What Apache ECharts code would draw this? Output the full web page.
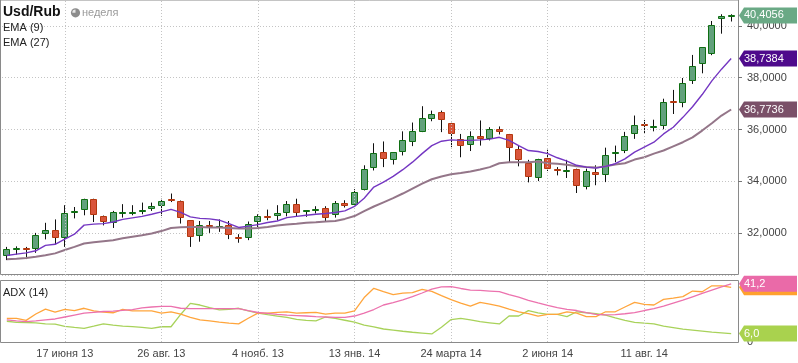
<!DOCTYPE html>
<html><head><meta charset="utf-8">
<script src="https://cdn.jsdelivr.net/npm/echarts@6/dist/echarts.min.js"></script>
<style>html,body{margin:0;padding:0;background:#fff;}#c{width:798px;height:363px;}</style>
</head><body><div id="c"></div>
<script>
// ---- data (weekly USD/RUB, from 6 May 2013) ----
const startWeek = '2013-05-06';
const tickIndex = [6, 16, 26, 36, 46, 56, 66];
const tickLabels = ['17 июня 13', '26 авг. 13', '4 нояб. 13', '13 янв. 14', '24 марта 14', '2 июня 14', '11 авг. 14'];

const open = [31.12,31.38,31.42,31.37,31.95,32.14,31.80,32.80,32.91,33.33,
  32.68,32.41,32.79,32.79,32.84,32.95,33.05,33.31,33.26,32.50,
  31.90,32.30,32.22,32.30,31.85,31.82,32.43,32.65,32.65,32.78,
  33.14,32.84,32.92,32.99,32.69,33.18,33.07,33.65,34.51,35.14,
  34.83,35.13,35.51,35.90,36.41,36.68,36.26,35.64,35.41,35.76,
  35.64,36.03,35.83,35.26,34.70,34.14,34.91,34.46,34.41,34.49,
  33.78,34.37,34.26,35.09,35.17,35.83,36.21,36.08,36.13,37.09,
  37.03,37.88,38.54,38.91,40.26,40.38];
const close = [31.37,31.42,31.38,31.91,32.14,31.80,32.76,32.84,33.33,32.69,
  32.45,32.80,32.82,32.82,32.88,33.04,33.26,33.26,32.57,31.86,
  32.33,32.22,32.26,31.91,31.79,32.37,32.65,32.60,32.77,33.12,
  32.76,32.88,32.95,32.60,33.18,33.03,33.60,34.49,35.10,34.87,
  35.12,35.58,35.95,36.45,36.60,36.35,35.83,35.36,35.74,35.62,
  36.03,35.91,35.30,34.83,34.17,34.87,34.49,34.41,34.45,33.81,
  34.41,34.26,35.03,35.14,35.76,36.19,36.16,36.12,37.07,37.03,
  37.80,38.45,39.18,40.04,40.38,40.4056];
const high = [31.47,31.49,31.47,32.01,32.40,32.53,33.08,33.01,33.33,33.33,
  32.68,32.86,33.12,33.08,33.18,33.18,33.33,33.53,33.26,32.50,
  32.47,32.47,32.53,32.47,31.96,32.45,32.73,32.91,33.08,33.24,
  33.33,32.88,33.04,33.04,33.24,33.27,33.70,34.62,35.47,35.54,
  35.12,35.93,36.27,36.90,36.73,36.73,36.26,35.83,35.93,36.35,
  36.09,36.12,35.83,35.38,34.83,34.87,35.22,34.55,34.83,34.49,
  34.49,34.62,35.30,35.38,35.91,36.54,36.37,36.38,37.19,37.53,
  37.99,38.88,39.18,40.19,40.45,40.45];
const low = [30.96,31.17,31.00,31.24,31.76,31.57,31.47,32.57,32.69,32.43,
  32.30,32.20,32.60,32.69,32.73,32.86,32.67,33.20,32.37,31.47,
  31.67,32.01,32.05,31.77,31.63,31.73,32.24,32.50,32.50,32.65,
  32.63,32.63,32.76,32.47,32.60,32.99,33.01,33.65,34.42,34.55,
  34.65,35.00,35.36,35.90,36.32,35.90,35.32,34.93,35.17,35.38,
  35.58,35.81,34.74,34.58,33.96,34.01,34.40,34.23,34.13,33.55,
  33.69,33.85,33.97,34.74,35.09,35.64,35.83,35.93,36.01,36.60,
  36.86,37.76,38.17,38.87,39.70,40.17];

const ema9 = [31.14,31.19,31.24,31.32,31.53,31.57,31.77,31.96,32.31,32.35,
  32.37,32.43,32.53,32.59,32.65,32.73,32.82,32.92,32.80,32.63,
  32.57,32.55,32.50,32.37,32.22,32.27,32.33,32.41,32.47,32.60,
  32.65,32.69,32.73,32.76,32.80,32.86,33.03,33.35,33.78,33.97,
  34.19,34.45,34.74,35.07,35.38,35.55,35.60,35.58,35.58,35.60,
  35.63,35.70,35.58,35.38,35.19,35.15,35.07,34.91,34.78,34.62,
  34.55,34.51,34.58,34.68,34.87,35.13,35.32,35.51,35.83,36.09,
  36.47,36.88,37.35,37.88,38.33,38.7384];
const ema27 = [30.99,31.01,31.04,31.09,31.15,31.22,31.35,31.47,31.60,31.65,
  31.69,31.73,31.80,31.86,31.92,31.99,32.08,32.20,32.23,32.24,
  32.24,32.22,32.22,32.20,32.18,32.18,32.20,32.24,32.30,32.33,
  32.36,32.40,32.42,32.45,32.47,32.55,32.66,32.85,33.03,33.19,
  33.35,33.53,33.72,33.91,34.08,34.19,34.27,34.32,34.38,34.46,
  34.55,34.70,34.74,34.74,34.74,34.77,34.70,34.68,34.64,34.58,
  34.55,34.53,34.58,34.65,34.70,34.84,34.93,35.07,35.19,35.35,
  35.51,35.70,35.96,36.24,36.54,36.7736];

const adx = [15.6,14.9,14.4,14.9,15.6,16.3,17.7,19.1,20.4,21.0,
  21.6,21.8,22.4,23.0,24.1,24.8,25.2,25.3,23.9,23.7,
  23.6,23.6,23.6,23.7,23.6,22.2,20.9,20.3,19.6,19.0,
  18.7,18.4,18.0,17.7,17.5,17.5,18.4,20.5,23.0,26.2,
  27.9,29.8,32.1,34.7,37.5,39.0,39.2,37.9,36.8,36.5,
  36.1,35.7,33.6,31.7,29.5,27.7,26.0,24.4,23.1,22.3,
  20.8,19.6,19.2,19.4,20.0,20.8,22.3,23.7,25.4,27.5,
  29.6,32.0,34.4,36.8,39.0,41.2];
const diPlus = [16.8,16.8,15.3,19.8,23.3,21.2,23.1,22.2,23.9,22.0,
  21.2,20.7,23.1,22.0,22.0,22.0,20.4,21.4,19.8,17.5,
  15.6,14.9,14.1,13.4,12.8,16.8,20.4,20.5,21.0,21.4,
  20.4,20.7,21.0,19.8,20.4,20.4,22.0,31.5,38.0,35.6,
  33.6,34.6,34.9,37.3,35.9,32.8,30.0,27.6,25.4,28.1,
  26.9,25.4,23.3,21.4,20.1,18.4,19.6,19.6,21.4,20.4,
  18.0,18.0,21.4,21.4,24.8,28.1,26.7,26.2,30.2,31.1,
  32.1,36.1,35.6,39.8,39.8,38.7];
const diMinus = [14.7,13.9,13.8,13.6,12.9,12.6,11.1,10.3,9.7,11.2,
  12.8,11.9,11.2,10.9,10.4,9.7,10.8,10.8,19.5,27.4,
  26.2,24.4,22.7,23.1,23.9,22.0,20.5,19.4,18.4,17.4,
  16.0,15.3,14.9,17.7,16.8,15.4,14.0,12.0,10.7,9.2,
  8.4,7.6,6.9,6.3,5.7,10.5,15.9,16.8,15.6,14.4,
  13.6,12.8,18.4,18.4,22.2,20.7,19.6,19.6,18.0,21.4,
  20.7,20.0,19.0,17.1,15.3,13.9,13.3,12.8,11.3,10.2,
  9.1,8.4,7.7,7.0,6.5,6.0];

// ---- build ----
const N = close.length;
const cats = [];
const d0 = new Date(startWeek + 'T00:00:00Z');
for (let i = 0; i < N; i++) cats.push(new Date(d0.getTime() + i * 7 * 86400000).toISOString().slice(0, 10));
const candleData = cats.map((_, i) => [i, open[i], close[i], low[i], high[i]]);

const FONT = '"Liberation Sans", Arial, sans-serif';
const UP_FILL = '#62a17c', UP_BORDER = '#0f6e12', DN_FILL = '#d9553b', DN_BORDER = '#b3380f';
const GRID_LINE = { type: [1, 2], color: '#c4c4c4', width: 1 };
const fmt4 = v => v.toFixed(4).replace('.', ',');

function renderCandle(params, api) {
  const i = api.value(0);
  const o = api.value(1), c = api.value(2), l = api.value(3), h = api.value(4);
  const pO = api.coord([i, o]), pC = api.coord([i, c]);
  const pH = api.coord([i, h]), pL = api.coord([i, l]);
  const bw = 7;
  const left = Math.round(pO[0] - bw / 2);
  const cx = left + bw / 2;
  const up = c >= o;
  let y0 = Math.round(Math.min(pO[1], pC[1])), y1 = Math.round(Math.max(pO[1], pC[1]));
  if (y1 - y0 < 2) y1 = y0 + 2;
  return { type: 'group', children: [
    { type: 'line', shape: { x1: cx, y1: pH[1], x2: cx, y2: pL[1] }, style: { stroke: '#111', lineWidth: 1 } },
    { type: 'rect', shape: { x: left + 0.5, y: y0 + 0.5, width: bw - 1, height: y1 - y0 - 1 },
      style: { fill: up ? UP_FILL : DN_FILL, stroke: up ? UP_BORDER : DN_BORDER, lineWidth: 1 } }
  ]};
}

const vMark = {
  silent: true, symbol: ['none', 'none'], label: { show: false }, animation: false,
  lineStyle: GRID_LINE, emphasis: { disabled: true },
  data: tickIndex.map(i => ({ xAxis: i }))
};

const chart = echarts.init(document.getElementById('c'), null, { renderer: 'canvas' });
const option = {
  animation: false,
  backgroundColor: '#fff',
  textStyle: { fontFamily: FONT },
  grid: [
    { left: 2, top: -1, width: 734, height: 276 },
    { left: 2, top: 281, width: 734, height: 61 },
    { left: 0.5, top: -0.5, width: 738, height: 275, show: true, borderColor: '#8a8a8a', borderWidth: 1, backgroundColor: 'transparent' },
    { left: 0.5, top: 280.5, width: 738, height: 62, show: true, borderColor: '#8a8a8a', borderWidth: 1, backgroundColor: 'transparent' }
  ],
  xAxis: [
    { type: 'category', gridIndex: 0, data: cats, boundaryGap: true,
      axisLine: { show: false }, axisTick: { show: false }, axisLabel: { show: false }, splitLine: { show: false } },
    { type: 'category', gridIndex: 1, data: cats, boundaryGap: true,
      axisLine: { show: false }, axisTick: { show: false }, splitLine: { show: false },
      axisLabel: { show: true, color: '#444', fontSize: 11, margin: 6, fontFamily: FONT,
        interval: (idx) => tickIndex.indexOf(idx) >= 0,
        formatter: (val, idx) => { const k = tickIndex.indexOf(idx); return k >= 0 ? tickLabels[k] : ''; } } },
    { type: 'value', gridIndex: 2, show: false },
    { type: 'value', gridIndex: 3, show: false }
  ],
  yAxis: [
    { type: 'value', gridIndex: 0, position: 'right', offset: 2, min: 30.385, max: 41.0,
      minInterval: 2, maxInterval: 2, scale: true,
      axisLine: { show: false },
      axisTick: { show: true, length: 4, lineStyle: { color: '#777' } },
      axisLabel: { color: '#444', fontSize: 11, margin: 9, fontFamily: FONT, showMinLabel: false, showMaxLabel: false,
        formatter: v => fmt4(v) },
      splitLine: { show: true, lineStyle: GRID_LINE } },
    { type: 'value', gridIndex: 1, position: 'right', offset: 2, min: 0, max: 43.2,
      axisLine: { show: false }, axisTick: { show: false }, splitLine: { show: false },
      axisLabel: { color: '#444', fontSize: 11, margin: 9, fontFamily: FONT, showMaxLabel: false,
        formatter: v => (v === 0 ? '0' : '') } },
    { type: 'value', gridIndex: 2, show: false },
    { type: 'value', gridIndex: 3, show: false }
  ],
  series: [
    { type: 'line', xAxisIndex: 0, yAxisIndex: 0, data: [], silent: true, z: 1, markLine: vMark },
    { type: 'line', xAxisIndex: 1, yAxisIndex: 1, data: [], silent: true, z: 1, markLine: vMark },
    { type: 'custom', name: 'Usd/Rub', xAxisIndex: 0, yAxisIndex: 0, renderItem: renderCandle,
      data: candleData, encode: { x: 0, y: [1, 2, 3, 4] }, z: 3, silent: true },
    { type: 'line', name: 'EMA (27)', xAxisIndex: 0, yAxisIndex: 0, data: ema27, showSymbol: false, symbol: 'none',
      lineStyle: { color: '#947689', width: 2 }, z: 4, silent: true },
    { type: 'line', name: 'EMA (9)', xAxisIndex: 0, yAxisIndex: 0, data: ema9, showSymbol: false, symbol: 'none',
      lineStyle: { color: '#7436c2', width: 1.4 }, z: 5, silent: true },
    { type: 'line', name: '-DI', xAxisIndex: 1, yAxisIndex: 1, data: diMinus, showSymbol: false, symbol: 'none',
      lineStyle: { color: '#a8d25a', width: 1.3 }, z: 4, silent: true },
    { type: 'line', name: '+DI', xAxisIndex: 1, yAxisIndex: 1, data: diPlus, showSymbol: false, symbol: 'none',
      lineStyle: { color: '#ffa53c', width: 1.3 }, z: 5, silent: true },
    { type: 'line', name: 'ADX (14)', xAxisIndex: 1, yAxisIndex: 1, data: adx, showSymbol: false, symbol: 'none',
      lineStyle: { color: '#ec72ae', width: 1.3 }, z: 6, silent: true }
  ]
};
chart.setOption(option);

// ---- value tags and titles ----
const AX = 739;
let zBase = 100;
function tag(v, axisIdx, color, text) {
  const yc = chart.convertToPixel({ yAxisIndex: axisIdx }, v);
  const t = yc - 8, b = yc + 8;
  zBase += 2;
  return [
    { type: 'polygon', z: zBase, silent: true,
      shape: { points: [[AX, yc], [AX + 5, t], [797, t], [797, b], [AX + 5, b]] },
      style: { fill: color } },
    { type: 'text', z: zBase + 1, silent: true,
      style: { text: text, x: AX + 5, y: yc, fill: '#fff', font: '11px ' + FONT, verticalAlign: 'middle' } }
  ];
}
const gfx = [];
gfx.push({ type: 'text', z: 100, silent: true, style: { text: 'Usd/Rub', x: 3, y: 5, fill: '#111', font: 'bold 14px ' + FONT, verticalAlign: 'top' } });
gfx.push({ type: 'circle', z: 100, silent: true, shape: { cx: 75.5, cy: 12.8, r: 4.6 }, style: { fill: '#8c8c8c' } });
gfx.push({ type: 'sector', z: 101, silent: true, shape: { cx: 75.5, cy: 12.8, r: 3.2, startAngle: Math.PI, endAngle: Math.PI * 1.5 }, style: { fill: '#e6e6e6' } });
gfx.push({ type: 'text', z: 100, silent: true, style: { text: 'неделя', x: 82, y: 7, fill: '#9a9a9a', font: '11px ' + FONT, verticalAlign: 'top' } });
gfx.push({ type: 'text', z: 100, silent: true, style: { text: 'EMA (9)', x: 3, y: 22, fill: '#222', font: '11px ' + FONT, verticalAlign: 'top' } });
gfx.push({ type: 'text', z: 100, silent: true, style: { text: 'EMA (27)', x: 3, y: 37, fill: '#222', font: '11px ' + FONT, verticalAlign: 'top' } });
gfx.push({ type: 'text', z: 100, silent: true, style: { text: 'ADX (14)', x: 3, y: 287, fill: '#222', font: '11px ' + FONT, verticalAlign: 'top' } });

const lastClose = close[N - 1], lastE9 = ema9[N - 1], lastE27 = ema27[N - 1];
gfx.push(...tag(lastE27, 0, '#7a5068', fmt4(lastE27)));
gfx.push(...tag(lastE9, 0, '#4e0a8c', fmt4(lastE9)));
gfx.push(...tag(lastClose, 0, '#6aa985', fmt4(lastClose)));
const f1 = v => v.toFixed(1).replace('.', ',');
gfx.push(...tag(diPlus[N - 1], 1, '#ffa12e', f1(diPlus[N - 1])));
gfx.push(...tag(adx[N - 1], 1, '#ea6aa8', f1(adx[N - 1])));
gfx.push(...tag(diMinus[N - 1], 1, '#a9d24e', f1(diMinus[N - 1])));
chart.setOption({ graphic: gfx });
</script>
</body></html>
